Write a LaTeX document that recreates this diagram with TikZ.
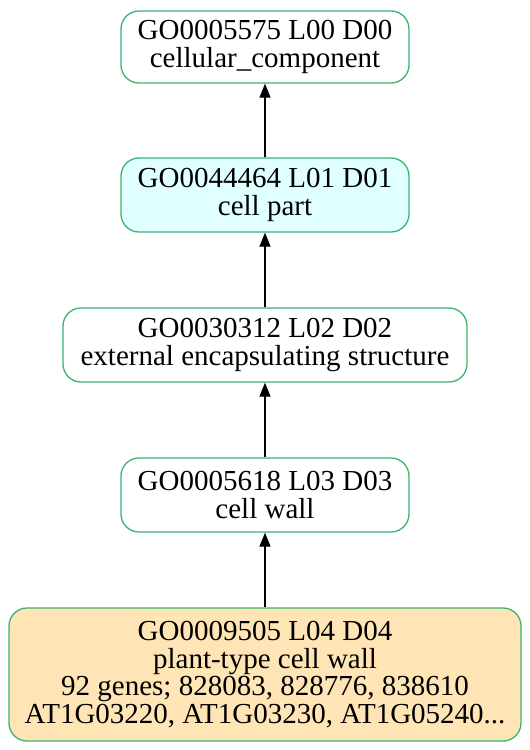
\documentclass[tikz,border=0pt]{standalone}
\usepackage{fontspec}
\setmainfont{Liberation Serif}
\usetikzlibrary{arrows.meta}
\definecolor{bordergreen}{HTML}{3CB371}
\definecolor{cyanfill}{HTML}{E0FFFF}
\definecolor{moccasinfill}{HTML}{FFE4B5}
\begin{document}
\begin{tikzpicture}[x=1pt,y=-1pt,
  gobox/.style={draw=bordergreen, line width=1.3pt, rounded corners=18pt, align=center,
    inner sep=0pt, font=\fontsize{29}{27.5}\selectfont, fill=white},
  isa/.style={draw=black, line width=1.3pt, -{Triangle[length=14pt,width=11pt]}}]
\useasboundingbox (0,0) rectangle (530,750);
\node[gobox, minimum width=288pt, minimum height=72pt] (n1) at (265,47) {GO0005575 L00 D00\\cellular\_component};
\node[gobox, fill=cyanfill, minimum width=288pt, minimum height=74pt] (n2) at (265,195) {GO0044464 L01 D01\\cell part};
\node[gobox, minimum width=404pt, minimum height=74pt] (n3) at (265,345) {GO0030312 L02 D02\\external encapsulating structure};
\node[gobox, minimum width=288pt, minimum height=74pt] (n4) at (265,495) {GO0005618 L03 D03\\cell wall};
\node[gobox, fill=moccasinfill, minimum width=512pt, minimum height=133pt] (n5) at (265,674.5) {GO0009505 L04 D04\\plant-type cell wall\\92 genes; 828083, 828776, 838610\\AT1G03220, AT1G03230, AT1G05240...};
\draw[isa] (n2.north) -- (n1.south);
\draw[isa] (n3.north) -- (n2.south);
\draw[isa] (n4.north) -- (n3.south);
\draw[isa] (n5.north) -- (n4.south);
\end{tikzpicture}
\end{document}
